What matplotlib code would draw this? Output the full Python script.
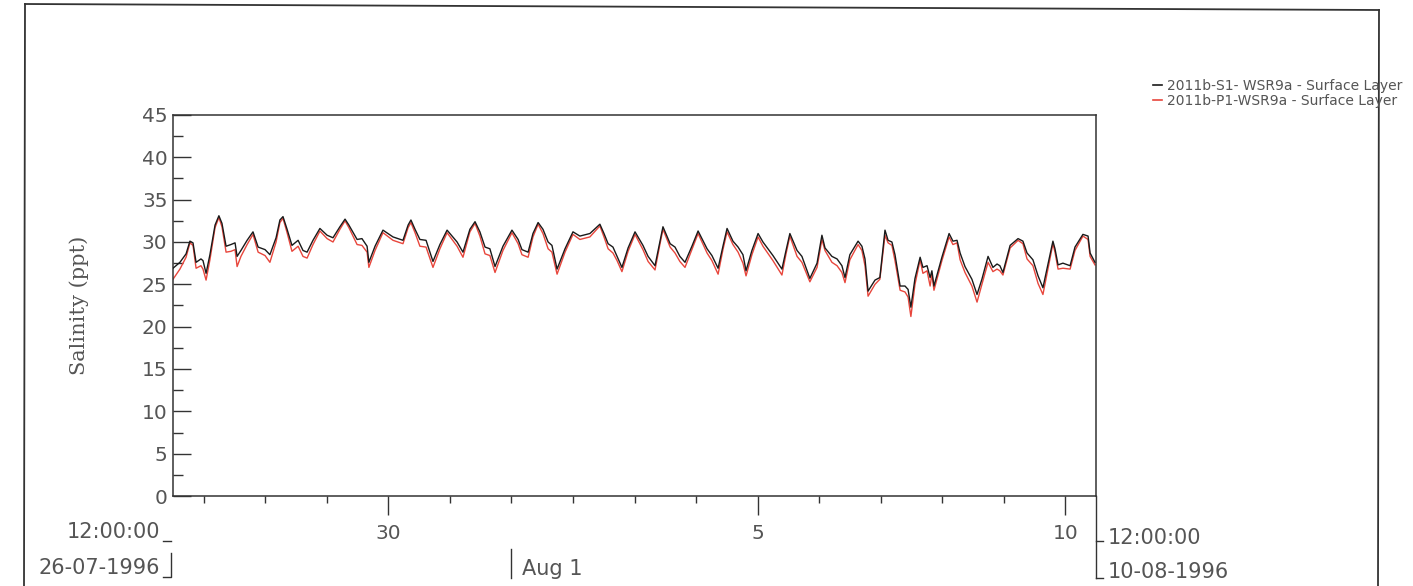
import numpy as np
import pandas as pd
import matplotlib
matplotlib.use('Agg')
import matplotlib.pyplot as plt
import matplotlib.dates as mdates
import matplotlib.ticker as mticker
from matplotlib.lines import Line2D
import matplotlib.transforms as mtransforms

# ── data: hours after 26-07-1996 12:00, salinity (ppt) ───────────────────────
hours = [
    0, 2.7, 5.1, 6.6, 7.8, 9.0, 10.9, 11.7, 12.9, 14.4, 16.4, 17.9, 19.1, 20.7,
    22.6, 24.2, 25.0, 26.5, 28.9, 31.2, 33.2, 35.9, 37.8, 40.2, 41.7, 42.9,
    44.5, 46.4, 48.8, 50.7, 52.3, 54.6, 57.3, 60.1, 62.4, 65.1, 67.1, 68.6,
    71.8, 73.7, 75.7, 76.4, 78.8, 81.9, 85.8, 89.7, 91.7, 92.8, 94.4, 96.3,
    98.7, 101.4, 104.1, 106.9, 110.8, 113.1, 115.8, 117.8, 119.7, 121.7,
    123.6, 125.6, 128.7, 132.2, 134.6, 136.1, 138.5, 140.4, 142.4, 144.3,
    146.3, 147.8, 149.8, 152.9, 156.0, 158.7, 162.6, 166.5, 168.1, 169.7,
    171.6, 173.2, 175.1, 177.5, 180.2, 183.3, 185.3, 188.0, 189.9, 191.1,
    193.9, 195.8, 197.7, 199.7, 202.4, 204.8, 208.3, 210.2, 212.6, 214.5,
    216.1, 218.4, 220.4, 222.3, 223.5, 225.8, 228.2, 230.1, 234.0, 237.5,
    239.1, 240.6, 243.4, 245.3, 248.4, 251.2, 253.1, 254.3, 257.0, 259.0,
    260.9, 262.1, 264.0, 267.2, 268.7, 269.9, 271.1, 273.8, 275.7, 277.7,
    278.9, 280.4, 281.6, 283.6, 285.5, 286.7, 287.8, 289.4, 291.4, 292.5,
    294.1, 295.3, 296.0, 296.8, 299.9, 302.7, 304.2, 305.8, 307.0, 308.9,
    311.6, 313.6, 315.5, 317.9, 319.8, 321.4, 322.5, 323.7, 326.5, 329.6,
    331.5, 333.1, 335.4, 337.4, 339.3, 341.3, 343.2, 344.0, 345.2, 347.1,
    349.9, 351.8, 354.9, 356.9, 357.7, 359.6,
]

s1_salinity = [
    26.9, 27.6, 28.6, 30.1, 29.9, 27.6, 28.0, 27.8, 26.3, 28.5, 32.0, 33.1, 32.2, 29.5,
    29.7, 29.9, 28.3, 29.0, 30.2, 31.2, 29.4, 29.1, 28.5, 30.5, 32.6, 33.0,
    31.5, 29.6, 30.2, 29.0, 28.8, 30.2, 31.6, 30.8, 30.5, 31.8, 32.7, 32.0,
    30.3, 30.4, 29.5, 27.6, 29.5, 31.4, 30.6, 30.2, 32.0, 32.6, 31.5, 30.3,
    30.2, 27.7, 29.7, 31.4, 30.0, 28.8, 31.5, 32.4, 31.2, 29.4,
    29.2, 27.1, 29.5, 31.4, 30.3, 29.1, 28.8, 31.0, 32.3, 31.5,
    30.0, 29.6, 26.8, 29.2, 31.2, 30.7, 31.0, 32.1, 31.0, 29.8,
    29.4, 28.3, 27.0, 29.3, 31.2, 29.6, 28.3, 27.2, 30.0, 31.8,
    29.8, 29.4, 28.3, 27.6, 29.5, 31.3, 29.2, 28.4, 26.9, 29.5,
    31.6, 30.1, 29.4, 28.5, 26.6, 29.0, 31.0, 30.0, 28.4, 26.8,
    29.0, 31.0, 29.0, 28.3, 25.7, 27.5, 30.8, 29.3, 28.3, 28.0,
    27.2, 25.8, 28.5, 30.1, 29.5, 28.0, 24.2, 25.5, 25.8, 31.4,
    30.2, 30.0, 28.5, 24.8, 24.8, 24.4, 22.3, 25.7, 28.2, 27.0,
    27.2, 25.8, 26.6, 24.8, 28.2, 31.0, 30.1, 30.2, 28.7, 27.1,
    25.6, 23.8, 25.6, 28.3, 27.0, 27.4, 27.2, 26.4, 29.6, 30.4,
    30.1, 28.7, 27.9, 26.0, 24.6, 27.4, 30.1, 29.2, 27.3, 27.5,
    27.2, 29.4, 30.9, 30.7, 28.7, 27.6,
]

p1_salinity = [
    25.6, 26.8, 28.2, 29.9, 29.6, 26.9, 27.2, 26.8, 25.5, 27.9, 31.7, 32.9, 31.8, 28.8,
    28.9, 29.1, 27.1, 28.3, 29.7, 30.9, 28.8, 28.4, 27.6, 30.0, 32.3, 32.8,
    31.1, 28.9, 29.5, 28.3, 28.1, 29.7, 31.3, 30.4, 30.0, 31.5, 32.5, 31.7,
    29.7, 29.6, 28.8, 27.0, 29.0, 31.1, 30.2, 29.8, 31.7, 32.3, 31.1, 29.5,
    29.4, 27.0, 29.2, 31.1, 29.5, 28.2, 31.2, 32.2, 30.7, 28.6,
    28.4, 26.4, 29.0, 31.1, 29.8, 28.5, 28.2, 30.6, 32.1, 31.0,
    29.2, 28.8, 26.2, 28.8, 30.9, 30.3, 30.6, 31.9, 30.6, 29.2,
    28.7, 27.8, 26.5, 28.9, 30.9, 29.1, 27.7, 26.7, 29.7, 31.5,
    29.4, 28.7, 27.7, 27.0, 29.1, 31.0, 28.7, 27.8, 26.2, 29.1,
    31.2, 29.7, 28.8, 27.5, 26.0, 28.5, 30.6, 29.5, 27.8, 26.1,
    28.6, 30.7, 28.3, 27.6, 25.3, 27.0, 30.3, 29.0, 27.6, 27.2,
    26.4, 25.2, 27.9, 29.7, 29.0, 27.2, 23.6, 25.0, 25.6, 30.8,
    29.9, 29.6, 27.8, 24.3, 24.1, 23.5, 21.2, 25.0, 27.9, 26.3,
    26.6, 24.8, 26.2, 24.3, 27.8, 30.6, 29.7, 29.9, 27.9, 26.4,
    24.8, 22.9, 25.0, 27.6, 26.5, 26.8, 26.6, 26.1, 29.3, 30.2,
    29.8, 28.0, 27.2, 25.1, 23.8, 26.9, 29.8, 28.8, 26.8, 26.9,
    26.8, 29.0, 30.7, 30.3, 28.3, 27.3,
]

series_labels = ["2011b-S1- WSR9a - Surface Layer", "2011b-P1-WSR9a - Surface Layer"]
major_days = ["1996-07-30", "1996-08-05", "1996-08-10"]
major_labels = ["30", "5", "10"]

start = pd.Timestamp("1996-07-26 12:00")
end = pd.Timestamp("1996-08-10 12:00")
times = start + pd.to_timedelta(hours, unit="h")

W, H = 1413, 586
TXT = "#555555"
AX = "#333333"
RED = "#e8463c"

plt.rcParams['font.family'] = ['DejaVu Sans']

fig = plt.figure(figsize=(W / 100, H / 100), dpi=100, facecolor="white")
ax = fig.add_axes([173 / W, (H - 496) / H, (1096 - 173) / W, (496 - 115) / H])

ax.plot(times, p1_salinity, color=RED, lw=1.0, zorder=2)
ax.plot(times, s1_salinity, color="#1a1a1a", lw=1.0, zorder=3)

ax.set_xlim(start, end)
ax.set_ylim(0, 45)

# y axis: inward ticks
ax.yaxis.set_major_locator(mticker.MultipleLocator(5))
ax.yaxis.set_minor_locator(mticker.MultipleLocator(2.5))
ax.tick_params(axis='y', which='major', direction='in', length=13, width=1.0,
               color=AX, labelsize=14.5, labelcolor=TXT, pad=4)
ax.tick_params(axis='y', which='minor', direction='in', length=7, width=1.0, color=AX)

# x axis: daily minor ticks, labelled majors
ax.xaxis.set_major_locator(mticker.FixedLocator(mdates.date2num(pd.to_datetime(major_days))))
ax.xaxis.set_major_formatter(mticker.FixedFormatter(major_labels))
ax.xaxis.set_minor_locator(mdates.DayLocator())
ax.tick_params(axis='x', which='major', direction='out', length=14, width=1.0,
               color=AX, labelsize=14.5, labelcolor=TXT, pad=6)
ax.tick_params(axis='x', which='minor', direction='out', length=5, width=1.0, color=AX)

for sp in ax.spines.values():
    sp.set_color(AX)
    sp.set_linewidth(1.1)

ax.set_ylabel("Salinity (ppt)", family="DejaVu Serif", fontsize=15, color=TXT, labelpad=38)

# ── decorations in image pixel coordinates (origin top-left) ────────────────
pix = mtransforms.Affine2D().scale(1, -1).translate(0, H)


def seg(xs, ys, lw=1.0, color=AX):
    fig.add_artist(Line2D(xs, ys, transform=pix, color=color, lw=lw))


def txt(x, y, s, ha="left", va="center", size=15, **kw):
    fig.text(x, y, s, transform=pix, ha=ha, va=va, fontsize=size, color=TXT, **kw)


# page frame
seg([25, 1379], [4, 10], lw=1.3)
seg([25, 24], [4, 586], lw=1.3)
seg([1379, 1378], [10, 586], lw=1.3)

# start / end date brackets
txt(160, 532, "12:00:00", ha="right")
txt(160, 568, "26-07-1996", ha="right")
seg([163, 171], [541, 541])
seg([163, 171, 171], [577, 577, 553])

txt(1108, 538, "12:00:00")
txt(1108, 572, "10-08-1996")
seg([1096, 1096], [496, 578])
seg([1096, 1103], [541, 541])
seg([1096, 1103], [578, 578])

# month marker
seg([511, 511], [549, 578])
txt(522, 569, "Aug 1")

# legend
seg([1153, 1162], [85, 85], lw=1.2, color="#1a1a1a")
seg([1153, 1162], [100, 100], lw=1.2, color=RED)
txt(1167, 86, series_labels[0], size=10)
txt(1167, 101, series_labels[1], size=10)

fig.savefig("out.png", dpi=100, facecolor="white")
